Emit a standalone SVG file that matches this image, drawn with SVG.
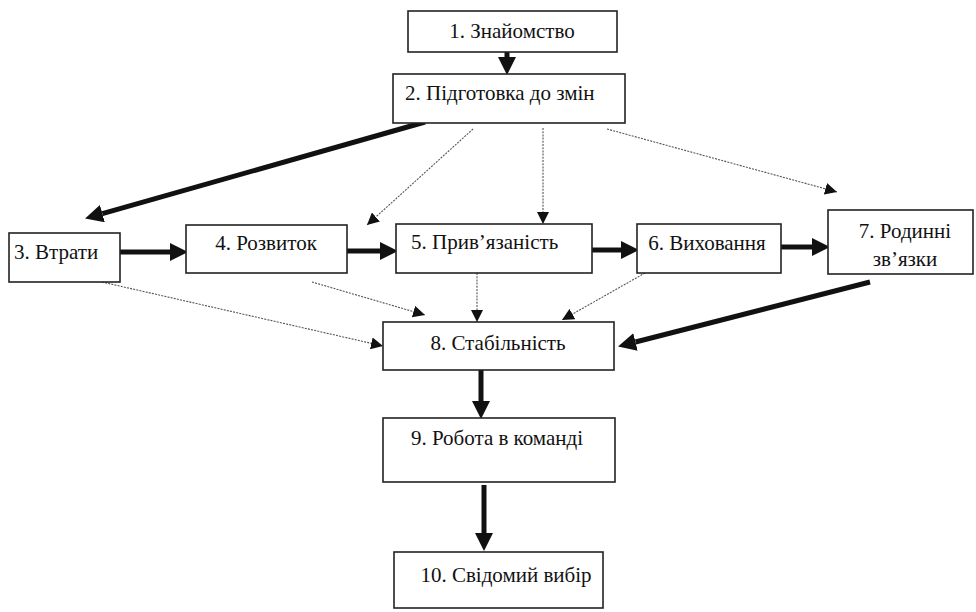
<svg xmlns="http://www.w3.org/2000/svg" width="976" height="612" viewBox="0 0 976 612">
  <style>
    .box { fill: #fff; stroke: #222; stroke-width: 1.6; }
    .lbl { font-size: 21px; fill: #111; }
    .mid { text-anchor: middle; }
    .thick { stroke: #111; stroke-width: 5; fill: none; }
    .dot { stroke: #555; stroke-width: 1.1; stroke-dasharray: 2 1.2; fill: none; }
  </style>
  <defs>
    <marker id="headBig" markerUnits="userSpaceOnUse" markerWidth="18" markerHeight="18" viewBox="0 0 16 16" refX="0" refY="8" orient="auto">
      <path d="M0,0 L16,8 L0,16 Z" fill="#111"/>
    </marker>
    <marker id="headSmall" markerUnits="userSpaceOnUse" markerWidth="12" markerHeight="12" viewBox="0 0 12 12" refX="12" refY="6" orient="auto">
      <path d="M0,0 L12,6 L0,12 Z" fill="#111"/>
    </marker>
  </defs>

  <g id="connectors">
    <!-- solid flow -->
    <line class="thick" x1="507" y1="52" x2="507" y2="57" marker-end="url(#headBig)"/>
    <line class="thick" x1="425" y1="122" x2="102.4" y2="213.6" stroke-width="4" marker-end="url(#headBig)"/>
    <line class="thick" x1="120" y1="252" x2="170" y2="252" marker-end="url(#headBig)"/>
    <line class="thick" x1="347" y1="251" x2="380" y2="251" marker-end="url(#headBig)"/>
    <line class="thick" x1="592" y1="250" x2="621" y2="250" marker-end="url(#headBig)"/>
    <line class="thick" x1="781" y1="247" x2="812" y2="247" marker-end="url(#headBig)"/>
    <line class="thick" x1="870" y1="282" x2="635.5" y2="342" marker-end="url(#headBig)"/>
    <line class="thick" x1="481" y1="370" x2="481" y2="401" marker-end="url(#headBig)"/>
    <line class="thick" x1="484" y1="485" x2="484" y2="533" marker-end="url(#headBig)"/>
    <!-- dotted influence -->
    <line class="dot" x1="473" y1="129" x2="367" y2="225" marker-end="url(#headSmall)"/>
    <line class="dot" x1="543" y1="128" x2="543" y2="224" marker-end="url(#headSmall)"/>
    <line class="dot" x1="607" y1="129" x2="837" y2="192" marker-end="url(#headSmall)"/>
    <line class="dot" x1="102" y1="282" x2="383" y2="346" marker-end="url(#headSmall)"/>
    <line class="dot" x1="312" y1="282" x2="425" y2="315" marker-end="url(#headSmall)"/>
    <line class="dot" x1="477" y1="273" x2="477" y2="322" marker-end="url(#headSmall)"/>
    <line class="dot" x1="645" y1="273" x2="562" y2="320" marker-end="url(#headSmall)"/>
  </g>

  <g font-family="'Liberation Serif', 'DejaVu Serif', serif">
    <g id="n1">
      <rect class="box" x="408" y="11" width="209" height="41"/>
      <text class="lbl mid" x="512" y="38">1. Знайомство</text>
    </g>
    <g id="n2">
      <rect class="box" x="393" y="74" width="232" height="49"/>
      <text class="lbl" x="405" y="100">2. Підготовка до змін</text>
    </g>
    <g id="n3">
      <rect class="box" x="9" y="233" width="111" height="49"/>
      <text class="lbl" x="14" y="259">3. Втрати</text>
    </g>
    <g id="n4">
      <rect class="box" x="186" y="225" width="161" height="48"/>
      <text class="lbl mid" x="266" y="250">4. Розвиток</text>
    </g>
    <g id="n5">
      <rect class="box" x="396" y="224" width="196" height="49"/>
      <text class="lbl" x="411" y="249">5. Прив’язаність</text>
    </g>
    <g id="n6">
      <rect class="box" x="637" y="224" width="144" height="49"/>
      <text class="lbl mid" x="707" y="250">6. Виховання</text>
    </g>
    <g id="n7">
      <rect class="box" x="828" y="210" width="145" height="64"/>
      <text class="lbl mid" x="905" y="238">7. Родинні</text>
      <text class="lbl mid" x="905" y="266">зв’язки</text>
    </g>
    <g id="n8">
      <rect class="box" x="383" y="322" width="231" height="48"/>
      <text class="lbl mid" x="498" y="350">8. Стабільність</text>
    </g>
    <g id="n9">
      <rect class="box" x="383" y="418" width="232" height="64"/>
      <text class="lbl mid" x="497" y="445">9. Робота в команді</text>
    </g>
    <g id="n10">
      <rect class="box" x="394" y="552" width="209" height="56"/>
      <text class="lbl mid" x="506" y="582">10. Свідомий вибір</text>
    </g>
  </g>
</svg>
